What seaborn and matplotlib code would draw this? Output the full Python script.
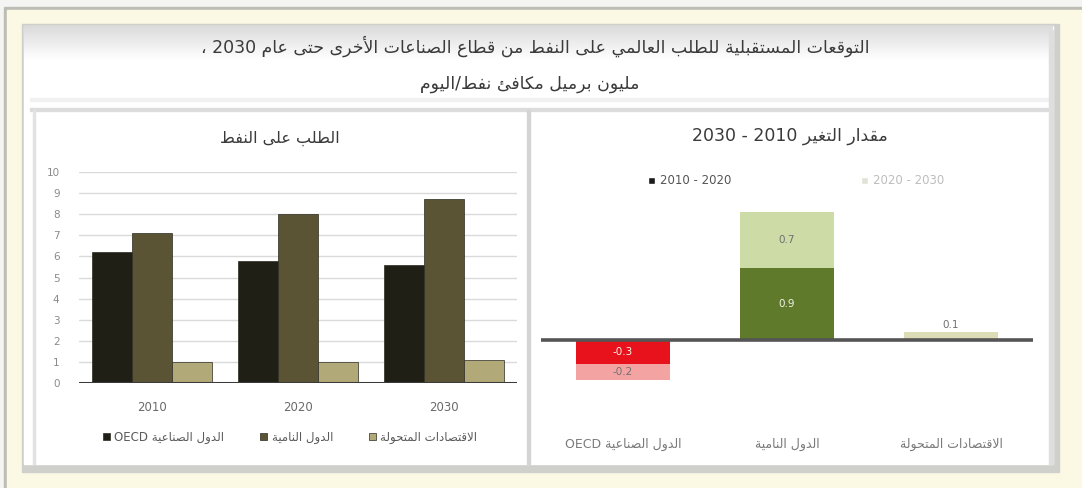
import re
import numpy as np
import pandas as pd
import seaborn as sns
import matplotlib
matplotlib.use("Agg")
import matplotlib.pyplot as plt
from matplotlib.patches import Rectangle, Patch

# ---------------------------------------------------------------- data
title_line1 = "التوقعات المستقبلية للطلب العالمي على النفط من قطاع الصناعات الأخرى حتى عام 2030 ،"
title_line2 = "مليون برميل مكافئ نفط/اليوم"

left_title = "الطلب على النفط"
right_title = "مقدار التغير 2010 - 2030"

years = ["2010", "2020", "2030"]
groups = ["الدول الصناعية OECD", "الدول النامية", "الاقتصادات المتحولة"]
demand_oecd = [6.2, 5.8, 5.6]
demand_developing = [7.1, 8.0, 8.7]
demand_transition = [1.0, 1.0, 1.1]
y_ticks = list(range(0, 11))

periods = ["2010 - 2020", "2020 - 2030"]
change_first = [-0.3, 0.9, 0.0]    # 2010 - 2020
change_second = [-0.2, 0.7, 0.1]   # 2020 - 2030

# ---------------------------------------------------------------- Arabic shaping
_FORMS = {}
for ch, start, n in [
    ("ء", 0xFE80, 1), ("آ", 0xFE81, 2), ("أ", 0xFE83, 2), ("ؤ", 0xFE85, 2),
    ("إ", 0xFE87, 2), ("ئ", 0xFE89, 4), ("ا", 0xFE8D, 2), ("ب", 0xFE8F, 4),
    ("ة", 0xFE93, 2), ("ت", 0xFE95, 4), ("ث", 0xFE99, 4), ("ج", 0xFE9D, 4),
    ("ح", 0xFEA1, 4), ("خ", 0xFEA5, 4), ("د", 0xFEA9, 2), ("ذ", 0xFEAB, 2),
    ("ر", 0xFEAD, 2), ("ز", 0xFEAF, 2), ("س", 0xFEB1, 4), ("ش", 0xFEB5, 4),
    ("ص", 0xFEB9, 4), ("ض", 0xFEBD, 4), ("ط", 0xFEC1, 4), ("ظ", 0xFEC5, 4),
    ("ع", 0xFEC9, 4), ("غ", 0xFECD, 4), ("ف", 0xFED1, 4), ("ق", 0xFED5, 4),
    ("ك", 0xFED9, 4), ("ل", 0xFEDD, 4), ("م", 0xFEE1, 4), ("ن", 0xFEE5, 4),
    ("ه", 0xFEE9, 4), ("و", 0xFEED, 2), ("ى", 0xFEEF, 2), ("ي", 0xFEF1, 4),
]:
    _FORMS[ch] = (start, n)
_LAM_ALEF = {"آ": 0xFEF5, "أ": 0xFEF7, "إ": 0xFEF9, "ا": 0xFEFB}


def _joins_next(x):
    return isinstance(x, str) and x in _FORMS and _FORMS[x][1] == 4


def _joins_prev(x):
    return isinstance(x, tuple) or (x in _FORMS and _FORMS[x][1] >= 2)


def ar(text):
    """Contextual forms plus right-to-left ordering for matplotlib."""
    if not any("\u0600" <= c <= "\u06FF" for c in text):
        return text
    units, i = [], 0
    while i < len(text):
        c = text[i]
        if c == "ل" and i + 1 < len(text) and text[i + 1] in _LAM_ALEF:
            units.append(("LA", text[i + 1]))
            i += 2
        else:
            units.append(c)
            i += 1
    out = []
    for k, u in enumerate(units):
        prev = units[k - 1] if k > 0 else None
        nxt = units[k + 1] if k + 1 < len(units) else None
        cp = prev is not None and _joins_next(prev) and _joins_prev(u)
        cn = nxt is not None and _joins_next(u) and _joins_prev(nxt)
        if isinstance(u, tuple):
            out.append(chr(_LAM_ALEF[u[1]] + (1 if cp else 0)))
        elif u in _FORMS:
            start, n = _FORMS[u]
            if n == 4:
                idx = {(False, False): 0, (True, False): 1,
                       (False, True): 2, (True, True): 3}[(cp, cn)]
            elif n == 2:
                idx = 1 if cp else 0
            else:
                idx = 0
            out.append(chr(start + idx))
        else:
            out.append(u)
    shaped = "".join(out)
    tokens = re.split(r"([0-9A-Za-z.]+)", shaped)
    return "".join(t if re.fullmatch(r"[0-9A-Za-z.]+", t) else t[::-1]
                   for t in reversed(tokens))


# ---------------------------------------------------------------- style
sns.set_theme(style="white")
plt.rcParams["font.family"] = ["DejaVu Sans"]

W, H = 1082, 488
fig = plt.figure(figsize=(W / 100, H / 100), dpi=100)


def fx(x):
    return x / W


def fy(y):
    return 1 - y / H


# decorative frame drawn in pixel coordinates
bg = fig.add_axes([0, 0, 1, 1], zorder=-10)
bg.set_xlim(0, W)
bg.set_ylim(H, 0)
bg.axis("off")
bg.add_patch(Rectangle((0, 0), W, H, color="#f4f4f2"))
bg.add_patch(Rectangle((4, 7), W, H, color="#bdbdb4"))
bg.add_patch(Rectangle((7, 10), W, H, color="#fbf8e4"))
bg.add_patch(Rectangle((22, 24), 1037, 448, color="#cfcfcc"))
bg.add_patch(Rectangle((24, 26), 1029, 438, color="#ffffff"))
grad = np.linspace(0.86, 1.0, 60).reshape(-1, 1)
bg.imshow(np.dstack([grad, grad, grad]), extent=(24, 1053, 60, 26),
          aspect="auto", zorder=1)
bg.add_patch(Rectangle((30, 98), 1020, 3, color="#f1f1f1", zorder=2))
bg.add_patch(Rectangle((30, 108), 1020, 3, color="#dcdcdc", zorder=2))
bg.add_patch(Rectangle((527, 110), 3, 354, color="#d4d4d4", zorder=2))
bg.add_patch(Rectangle((33, 110), 2, 354, color="#e2e2e2", zorder=2))
bg.add_patch(Rectangle((1049, 30), 4, 434, color="#dedede", zorder=2))

title_color = "#3a3a3a"
fig.text(fx(535), fy(46), ar(title_line1), ha="center", va="center",
         fontsize=12.5, color=title_color)
fig.text(fx(530), fy(84), ar(title_line2), ha="center", va="center",
         fontsize=12.5, color=title_color)
fig.text(fx(280), fy(138), ar(left_title), ha="center", va="center",
         fontsize=11.5, color=title_color)
fig.text(fx(790), fy(136), ar(right_title), ha="center", va="center",
         fontsize=12.5, color=title_color)

# ---------------------------------------------------------------- left: demand
ax1 = fig.add_axes([fx(79), fy(383), fx(438), (383 - 172) / H])
ax1.set_facecolor("none")
df = pd.DataFrame({
    "year": years * 3,
    "group": [ar(g) for g in groups for _ in years],
    "value": demand_oecd + demand_developing + demand_transition,
})
bar_colors = ["#1f1f15", "#5b5434", "#b1a978"]
sns.barplot(data=df, x="year", y="value", hue="group", palette=bar_colors,
            width=0.82, gap=0, saturation=1, ax=ax1,
            edgecolor="#2a2a20", linewidth=0.5, zorder=3)
ax1.set_ylim(0, 10)
ax1.set_xlim(-0.5, 2.5)
ax1.set_yticks(y_ticks)
ax1.yaxis.grid(True, color="#dadada", linewidth=1)
ax1.set_axisbelow(True)
ax1.axhline(0, color="#3a3a3a", linewidth=2.2, zorder=4)
for s in ax1.spines.values():
    s.set_visible(False)
ax1.tick_params(axis="y", length=0, pad=14, labelsize=7.5, labelcolor="#8a8a8a")
ax1.tick_params(axis="x", length=0, pad=13, labelsize=8.5, labelcolor="#6a6a6a")
ax1.set_xlabel("")
ax1.set_ylabel("")
leg = ax1.legend(loc="center", bbox_to_anchor=(fx(290), fy(437)),
                 bbox_transform=fig.transFigure, ncol=3, frameon=False,
                 fontsize=8.5, handlelength=0.6, handleheight=0.6,
                 handletextpad=0.4, columnspacing=3.0)
for t in leg.get_texts():
    t.set_color("#5a5a5a")

# ---------------------------------------------------------------- right: change
ax2 = fig.add_axes([fx(541), fy(388), fx(492), (388 - 200) / H])
ax2.set_facecolor("none")
cat_labels = [ar(g) for g in groups]
totals = [a + b for a, b in zip(change_first, change_second)]
light_colors = ["#f4a3a3", "#cddba6", "#dcdcb6"]
dark_colors = ["#e8121c", "#5f7a2b", "#a8a878"]
sns.barplot(x=cat_labels, y=totals, hue=cat_labels, palette=light_colors,
            width=0.57, saturation=1, legend=False, ax=ax2, zorder=2,
            linewidth=0)
sns.barplot(x=cat_labels, y=change_first, hue=cat_labels, palette=dark_colors,
            width=0.57, saturation=1, legend=False, ax=ax2, zorder=3,
            linewidth=0)
ax2.set_ylim(-0.6, 1.75)
ax2.set_xlim(-0.5, 2.5)
ax2.axhline(0, color="#555555", linewidth=2.6, zorder=4)
for s in ax2.spines.values():
    s.set_visible(False)
ax2.set_yticks([])
ax2.tick_params(axis="x", length=0, pad=36, labelsize=9, labelcolor="#7a7a7a")
ax2.set_xlabel("")
ax2.set_ylabel("")

for i, (a, b) in enumerate(zip(change_first, change_second)):
    if a != 0:
        ax2.text(i, a / 2, f"{a:.1f}", ha="center", va="center",
                 fontsize=7.5, color="#f2f2e8", zorder=5)
    if b != 0:
        if abs(b) < 0.15:
            ax2.text(i, a + b + 0.03, f"{b:.1f}", ha="center", va="bottom",
                     fontsize=7.5, color="#707070", zorder=5)
        else:
            ax2.text(i, a + b / 2, f"{b:.1f}", ha="center", va="center",
                     fontsize=7.5, color="#707070", zorder=5)

handles = [Patch(facecolor="#1a1a1a"), Patch(facecolor="#e2e2d6")]
leg2 = ax2.legend(handles, [ar(p) for p in periods], loc="center",
                  bbox_to_anchor=(fx(796), fy(181)),
                  bbox_transform=fig.transFigure, ncol=2, frameon=False,
                  fontsize=8.5, handlelength=0.6, handleheight=0.6,
                  handletextpad=0.4, columnspacing=11)
leg2.get_texts()[0].set_color("#555555")
leg2.get_texts()[1].set_color("#bdbdbd")

fig.savefig("out.png", dpi=100)
